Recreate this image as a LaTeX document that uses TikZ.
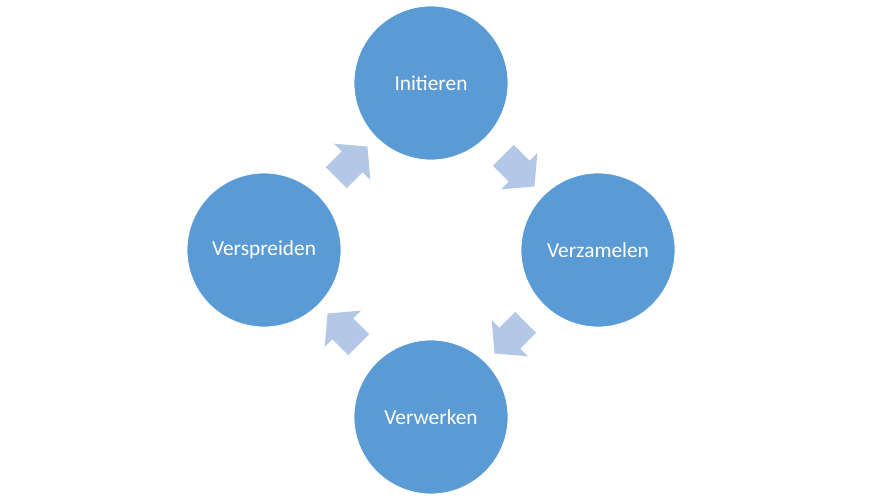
\documentclass[tikz,border=0pt]{standalone}
\usepackage{fontspec}
\setmainfont{Carlito}
\definecolor{cycblue}{RGB}{91,155,213}
\definecolor{cyclight}{RGB}{178,200,230}
\usetikzlibrary{positioning,calc,shapes.arrows}

\begin{document}
\begin{tikzpicture}[x=0.75pt, y=0.75pt,
  phase/.style={circle, fill=cycblue, draw=white, line width=0.6pt, minimum size=115.5pt, inner sep=0pt, text=white, font=\fontsize{16}{19}\selectfont},
  flow/.style={single arrow, fill=cyclight, draw=none, minimum height=33pt, inner xsep=0pt, inner ysep=10.9pt, single arrow head extend=8.25pt, single arrow tip angle=100}]
\useasboundingbox (0,0) rectangle (870,500);
% four phases
\node[phase] (init) at (431,417) {Initieren};
\node[phase] (verz) at (598,250) {Verzamelen};
\node[phase] (verw) at (431,83) {Verwerken};
\node[phase] (versp) at (264,250) {Verspreiden};
% block arrows between them
\node[flow, rotate=-45] (a1) at ($(init)!0.5!(verz)$) {};
\node[flow, rotate=-135] (a2) at ($(verz)!0.5!(verw)$) {};
\node[flow, rotate=135] (a3) at ($(verw)!0.5!(versp)$) {};
\node[flow, rotate=45] (a4) at ($(versp)!0.5!(init)$) {};
\end{tikzpicture}
\end{document}
